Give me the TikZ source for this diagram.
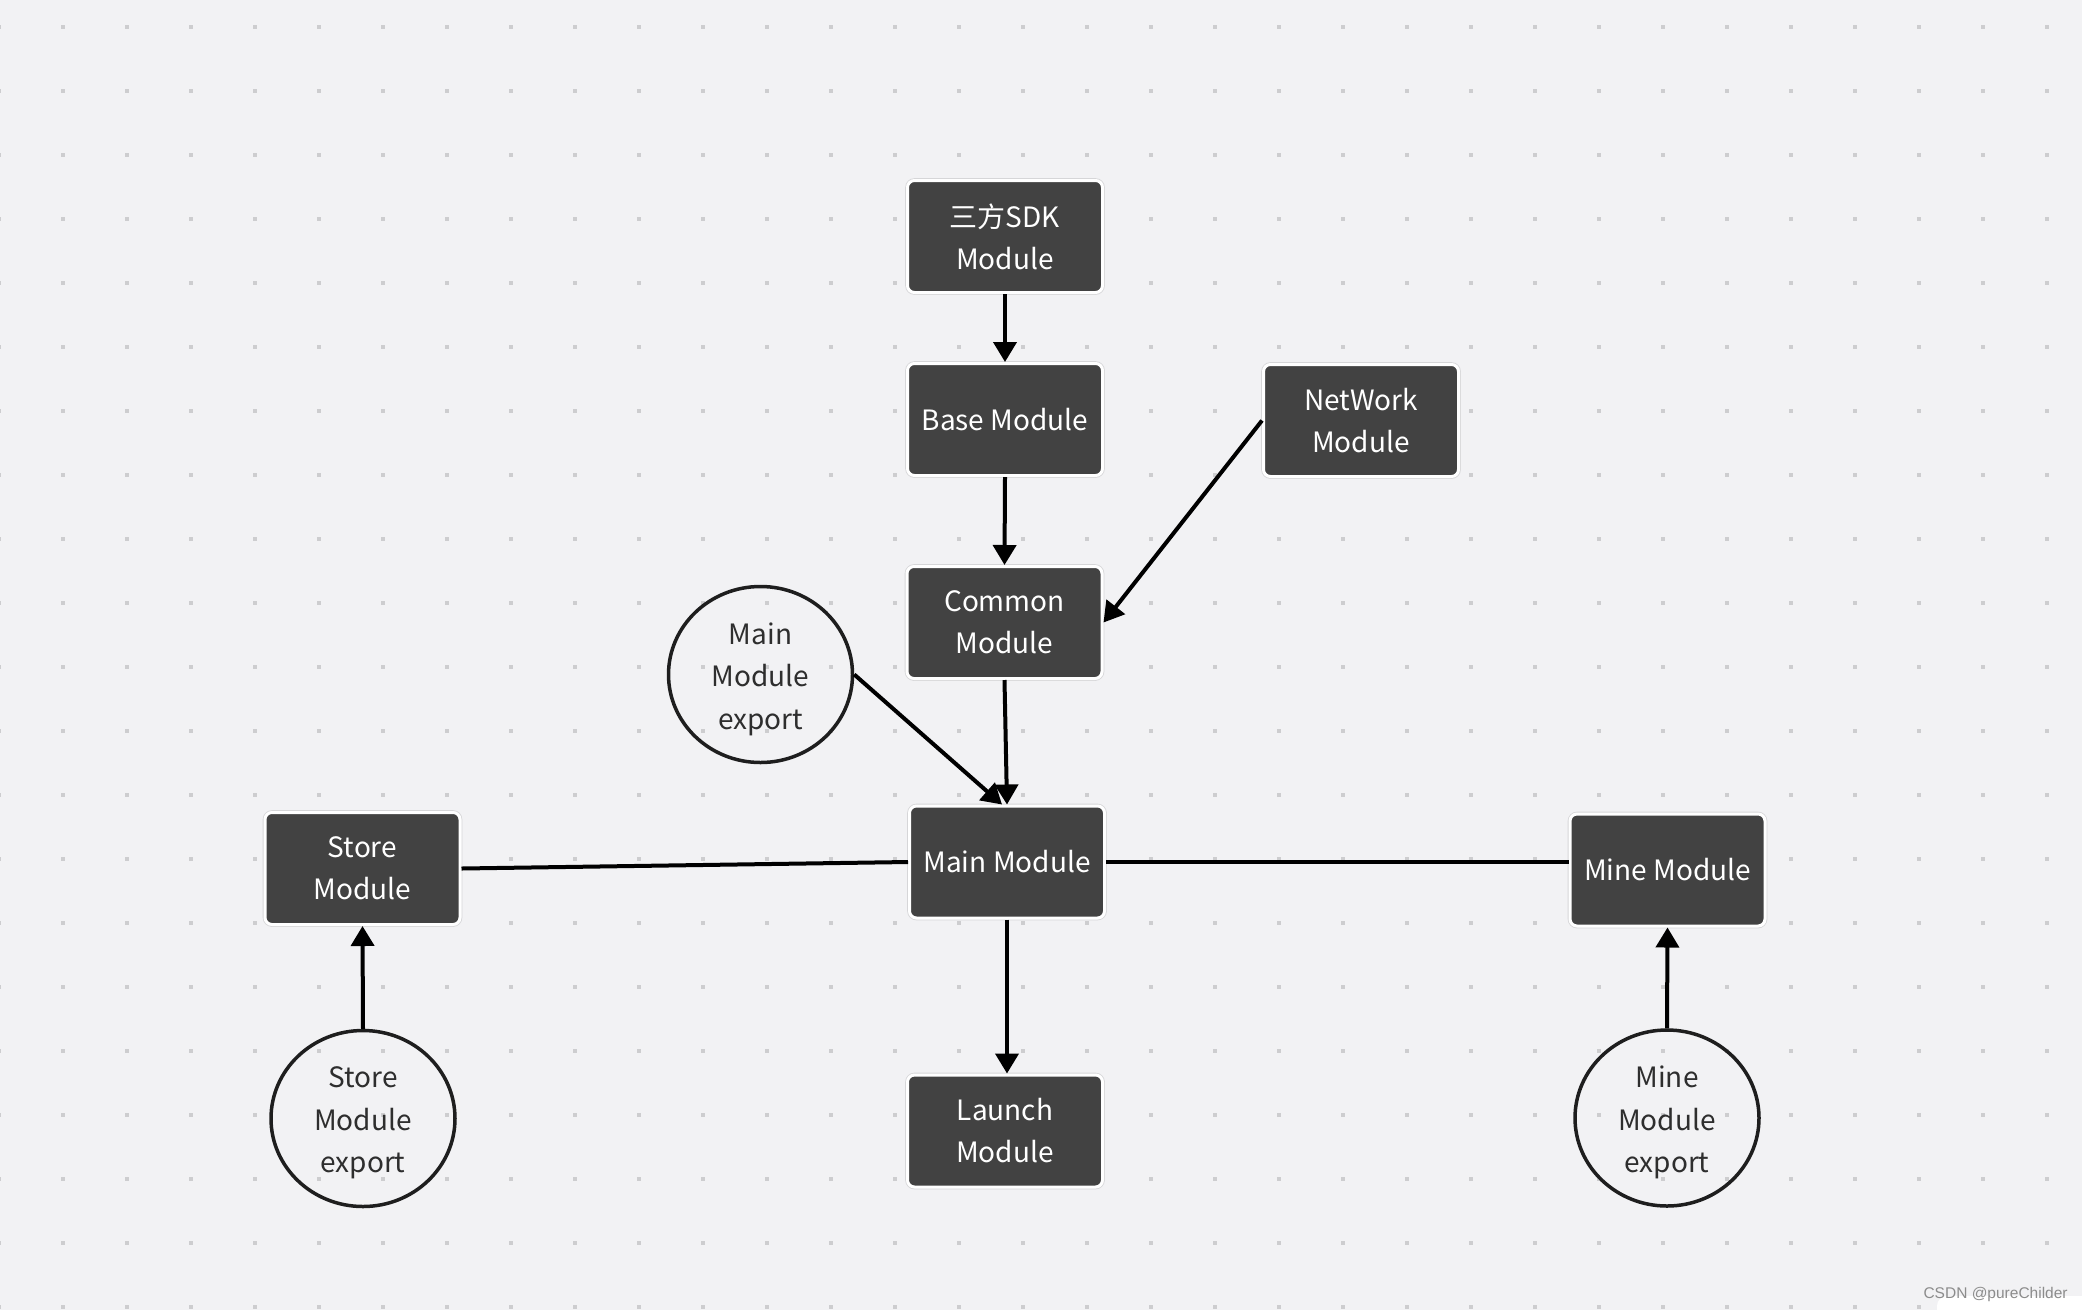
\documentclass[tikz,border=0pt]{standalone}
\usepackage{fontspec}
\setmainfont{Noto Sans CJK SC}
\newfontfamily\wmfont{Liberation Sans}
\usetikzlibrary{arrows.meta,shapes.geometric,calc}
\definecolor{bg}{HTML}{F2F2F4}
\definecolor{dotc}{HTML}{CDCDCF}
\definecolor{boxc}{HTML}{424242}
\definecolor{inkc}{HTML}{1E1E1E}
\definecolor{txtc}{HTML}{2E2E2E}
\definecolor{rimc}{HTML}{D6D6D8}
\definecolor{wmc}{HTML}{8C8C8C}
\begin{document}
\begin{tikzpicture}[x=1pt,y=-1pt,
  modbox/.style={rectangle, rounded corners=7pt, fill=boxc, draw=white, line width=3pt,
    preaction={draw=rimc, line width=4.6pt},
    minimum width=195pt, minimum height=112pt, inner sep=0pt, text=white, align=center,
    font=\fontsize{28}{42}\selectfont},
  expshape/.style={ellipse, draw=inkc, line width=3.5pt, minimum width=184pt, minimum height=176pt,
    inner sep=0pt},
  exptext/.style={inner sep=0pt, text=txtc, align=center, font=\fontsize{28}{42.5}\selectfont},
  link/.style={line width=4pt, draw=black},
  arr/.style={link, -{Triangle[width=23pt,length=20pt]}},
]
\useasboundingbox (0,0) rectangle (2082,1310);
\fill[bg] (0,0) rectangle (2082,1310);
\foreach \i in {0,...,32}{\foreach \j in {0,...,20}{\fill[dotc] ({64*\i-3},{64*\j+25}) rectangle ++(4,4);}}
\fill[white, rounded corners=10pt] (1937,1296) rectangle (2110,1340);
\node[anchor=base west, text=wmc, font=\wmfont\fontsize{15.5}{18}\selectfont] (wm) at (1920,1298) {CSDN @pureChilder};

% modules
\node[modbox] (sdk) at (1005,236.5) {三方SDK\\Module};
\node[modbox] (base) at (1005,419.5) {Base Module};
\node[modbox] (net) at (1361,420.5) {NetWork\\Module};
\node[modbox] (common) at (1004.5,622.5) {Common\\Module};
\node[modbox] (main) at (1007,862) {Main Module};
\node[modbox] (store) at (362.5,868.5) {Store\\Module};
\node[modbox] (mine) at (1667.5,870) {Mine Module};
\node[modbox] (launch) at (1005,1131) {Launch\\Module};

% exports
\node[expshape] (mainexp) at (760.5,674.5) {};
\node[exptext] (mainexptxt) at ([yshift=-4.5pt]mainexp.center) {Main\\Module\\export};
\node[expshape] (storeexp) at (363,1118.5) {};
\node[exptext] (storeexptxt) at ([yshift=-4.5pt]storeexp.center) {Store\\Module\\export};
\node[expshape] (mineexp) at (1667,1118) {};
\node[exptext] (mineexptxt) at ([yshift=-4.5pt]mineexp.center) {Mine\\Module\\export};

% connectors
\draw[arr] (sdk.south) -- (base.north);
\draw[arr] (base.south) -- (common.north);
\draw[arr] (net.west) -- (common.east);
\draw[arr] (common.south) -- (main.north);
\draw[arr] (mainexp.east) -- ([xshift=-5pt]main.north);
\draw[link] (store.east) -- (main.west);
\draw[link] (main.east) -- (main.east -| mine.west);
\draw[arr] (main.south) -- (main.south |- launch.north);
\draw[arr] (storeexp.north) -- (store.south);
\draw[arr] (mineexp.north) -- (mine.south);
\end{tikzpicture}
\end{document}
